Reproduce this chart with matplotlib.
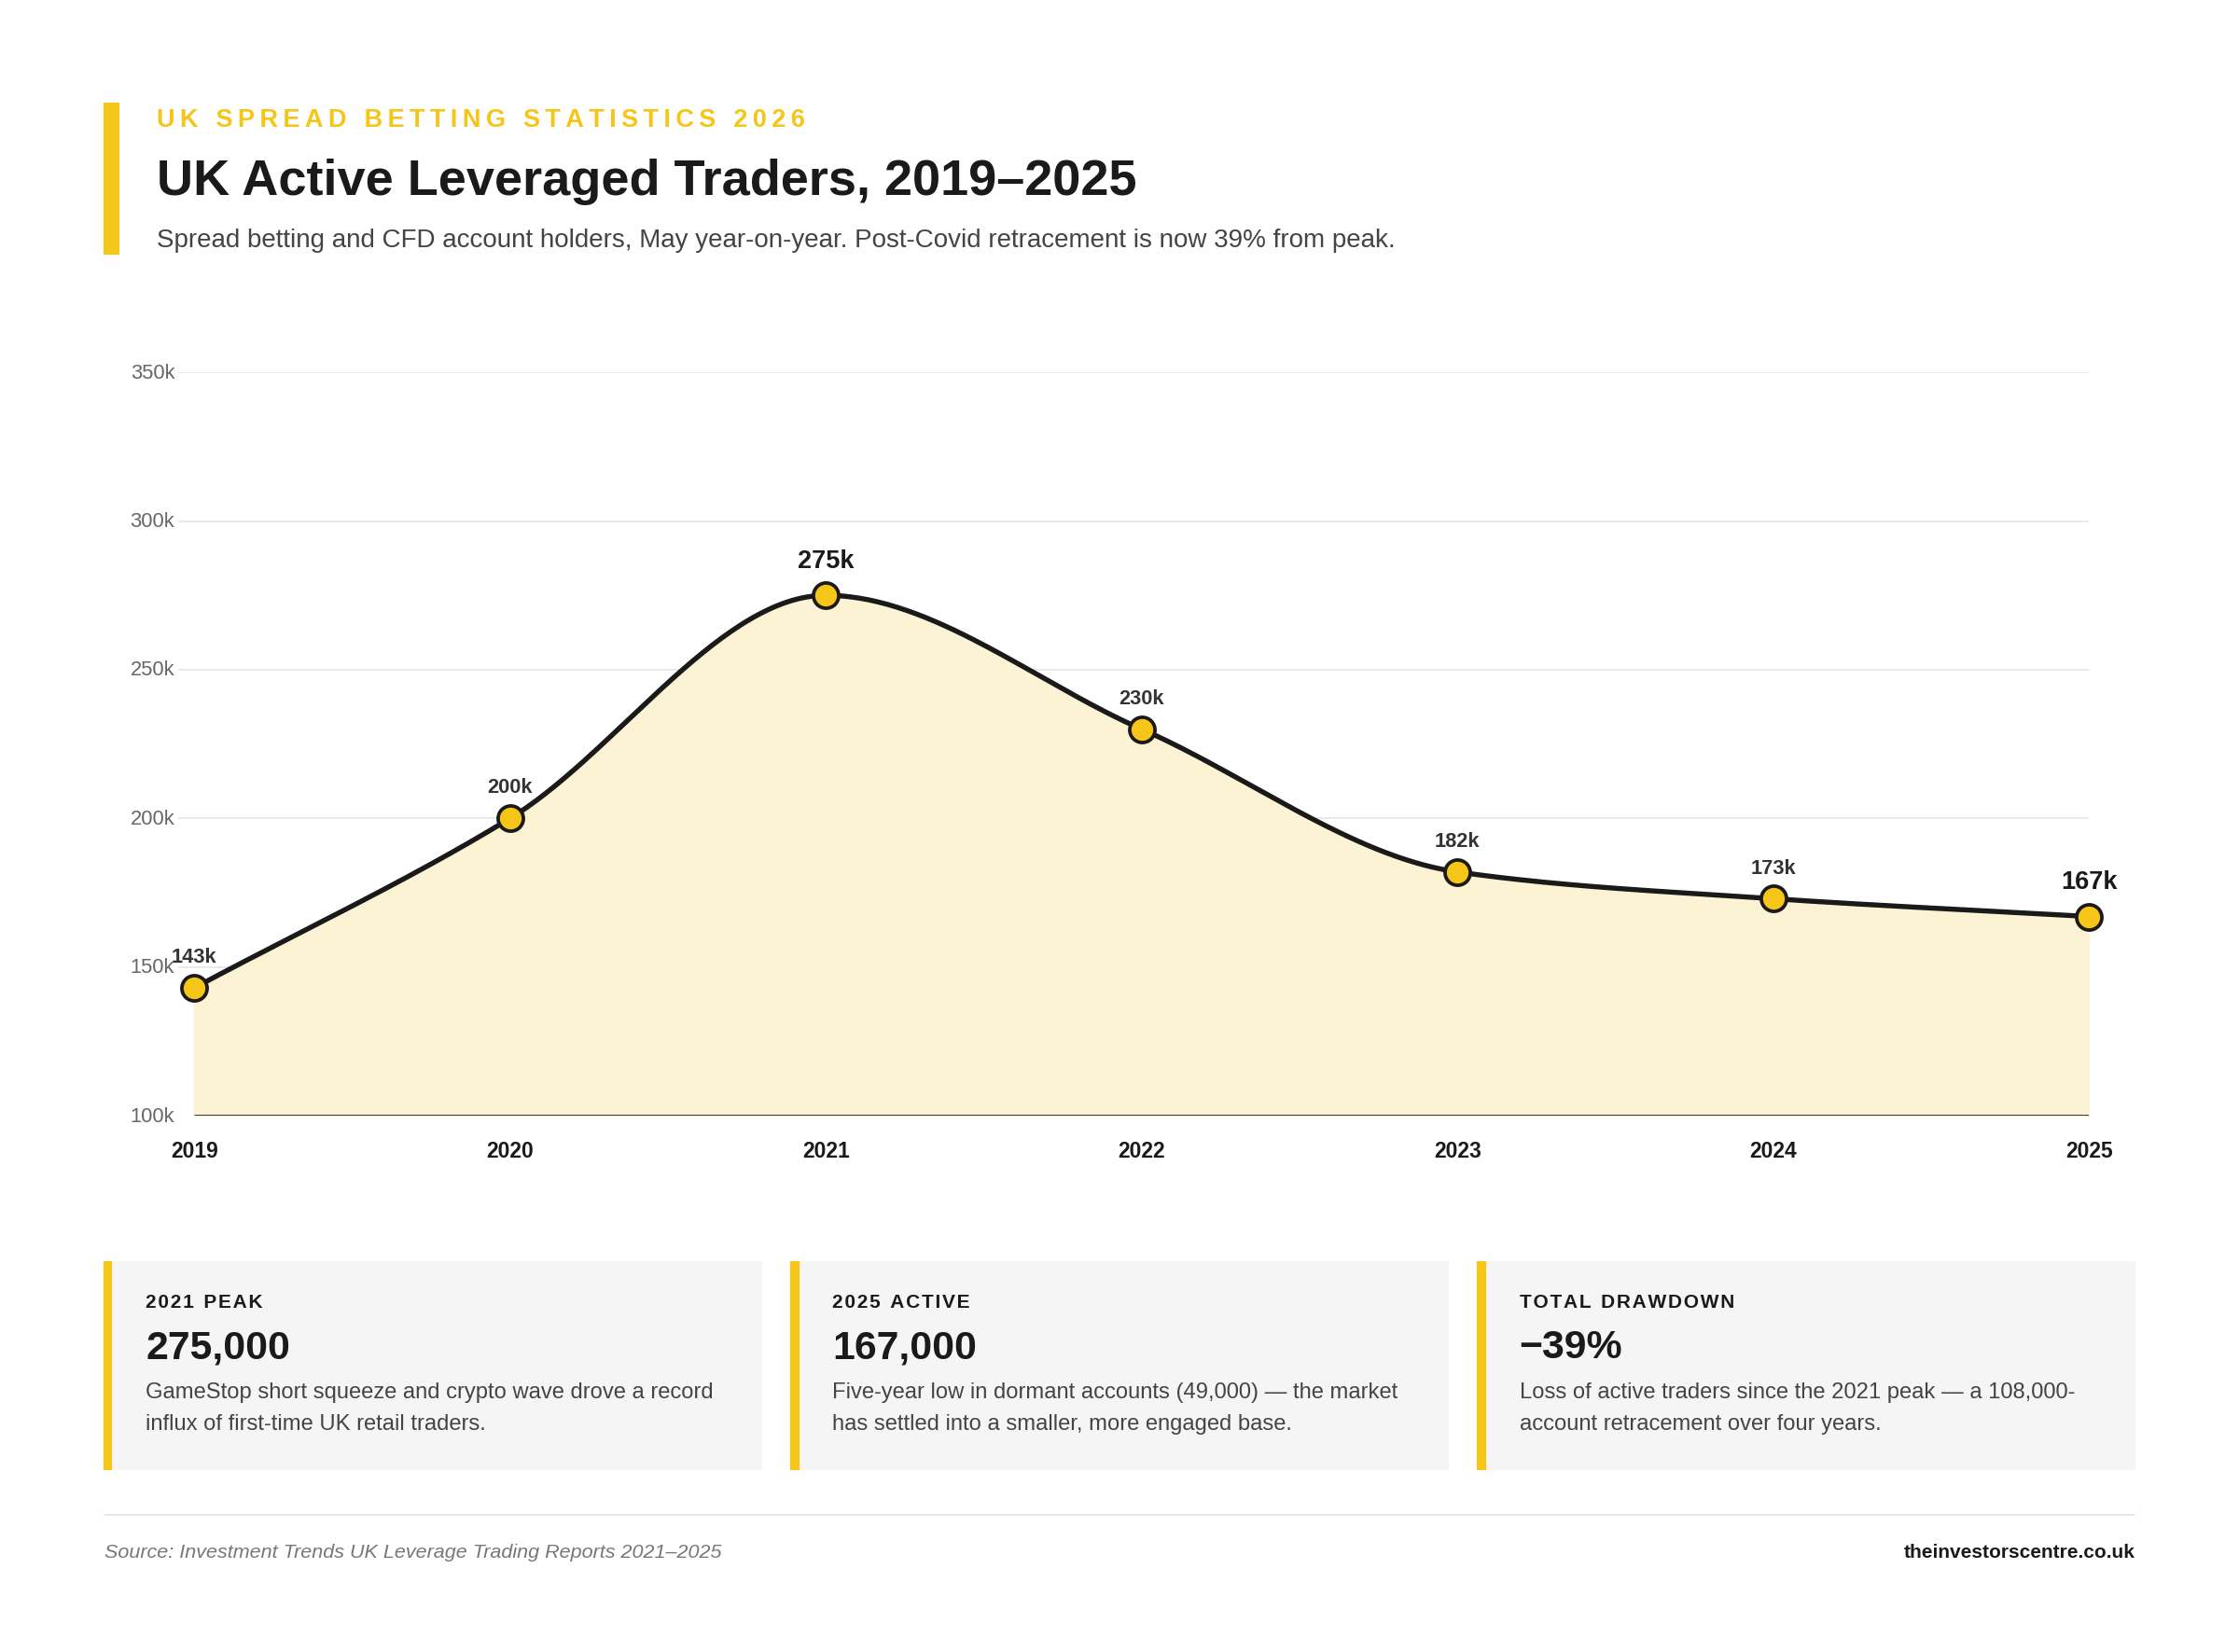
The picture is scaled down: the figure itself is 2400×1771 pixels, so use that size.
import numpy as np
import matplotlib
matplotlib.use("Agg")
import matplotlib.pyplot as plt
from matplotlib.patches import Rectangle
from matplotlib.lines import Line2D

plt.rcParams['font.family'] = ['Liberation Sans', 'DejaVu Sans']

years = [2019, 2020, 2021, 2022, 2023, 2024, 2025]
traders_k = [143, 200, 275, 230, 182, 173, 167]
labels = ["143k", "200k", "275k", "230k", "182k", "173k", "167k"]
big_labels = {2021, 2025}
yticks = [100, 150, 200, 250, 300, 350]
ytick_labels = ["100k", "150k", "200k", "250k", "300k", "350k"]

cards = [
    ("2021 PEAK", "275,000", "GameStop short squeeze and crypto wave drove a record\ninflux of first-time UK retail traders."),
    ("2025 ACTIVE", "167,000", "Five-year low in dormant accounts (49,000) \u2014 the market\nhas settled into a smaller, more engaged base."),
    ("TOTAL DRAWDOWN", "\u221239%", "Loss of active traders since the 2021 peak \u2014 a 108,000-\naccount retracement over four years."),
]

YELLOW = "#f5c518"
DARK = "#1a1a1a"
W, H = 1568.0, 1156.0

def monotone(x, y, n=400):
    x = np.asarray(x, float); y = np.asarray(y, float)
    h = np.diff(x); d = np.diff(y) / h
    m = np.zeros_like(y)
    m[0], m[-1] = d[0], d[-1]
    for i in range(1, len(y) - 1):
        if d[i-1] * d[i] <= 0:
            m[i] = 0
        else:
            m[i] = 2 / (1/d[i-1] + 1/d[i])
    xs = np.linspace(x[0], x[-1], n)
    ys = np.empty_like(xs)
    for j, xv in enumerate(xs):
        i = min(np.searchsorted(x, xv, side='right') - 1, len(x) - 2)
        t = (xv - x[i]) / h[i]
        h00 = 2*t**3 - 3*t**2 + 1; h10 = t**3 - 2*t**2 + t
        h01 = -2*t**3 + 3*t**2; h11 = t**3 - t**2
        ys[j] = h00*y[i] + h10*h[i]*m[i] + h01*y[i+1] + h11*h[i]*m[i+1]
    return xs, ys

def spaced(s, gap="\u200a", wordgap="\u2002"):
    return wordgap.join(gap.join(w) for w in s.split(" "))

fig = plt.figure(figsize=(16, 11.8133), dpi=150)
fig.patch.set_facecolor("white")

def fx(px): return px / W
def fy(py): return 1 - py / H

# header
fig.add_artist(Rectangle((fx(73), fy(178)), fx(10), (178-73)/H, color=YELLOW, transform=fig.transFigure))
fig.text(fx(110), fy(84), spaced("UK SPREAD BETTING STATISTICS 2026", "\u2009", "\u2002\u2009"),
         color=YELLOW, fontsize=13, fontweight='bold', va='center', ha='left')
fig.text(fx(110), fy(127), "UK Active Leveraged Traders, 2019\u20132025", color=DARK, fontsize=26,
         fontweight='bold', va='center', ha='left')
fig.text(fx(110), fy(168), "Spread betting and CFD account holders, May year-on-year. Post-Covid retracement is now 39% from peak.",
         color="#444444", fontsize=13.3, va='center', ha='left')

# chart
ax = fig.add_axes([fx(125), fy(781), (1463-125)/W, (781-261)/H])
x0lim = 2019 - 11/221.17
ax.set_xlim(x0lim, 2025)
ax.set_ylim(100, 350)
for s in ax.spines.values():
    s.set_visible(False)
ax.set_xticks([]); ax.set_yticks([])
for yt, lab in zip(yticks, ytick_labels):
    if yt > 100:
        ax.axhline(yt, color="#e6e6e6", lw=0.8, zorder=0)
    ax.annotate(lab, (x0lim, yt), xytext=(-2, 0), textcoords='offset points',
                ha='right', va='center', fontsize=10.5, color="#666666", annotation_clip=False)
xs, ys = monotone(years, traders_k)
ax.fill_between(xs, 100, ys, color="#fcf3d4", zorder=1)
ax.hlines(100, years[0], years[-1], color=DARK, lw=1.3, zorder=2.5)
ax.plot(xs, ys, color=DARK, lw=2.6, zorder=3, solid_capstyle='round')
ax.plot(years, traders_k, 'o', ms=13, mfc=YELLOW, mec=DARK, mew=1.8, zorder=4, clip_on=False)
for x, v, lab in zip(years, traders_k, labels):
    big = x in big_labels
    ax.annotate(lab, (x, v), xytext=(0, 18 if big else 16), textcoords='offset points',
                ha='center', va='center', fontsize=13 if big else 10.5,
                fontweight='bold', color=DARK if big else "#333333", annotation_clip=False)
    ax.annotate(str(x), (x, 100), xytext=(0, -18), textcoords='offset points', ha='center',
                va='center', fontsize=11, fontweight='bold', color=DARK, annotation_clip=False)

# cards
for i, (lab, val, desc) in enumerate(cards):
    x0 = 73 + i * 481
    fig.add_artist(Rectangle((fx(x0), fy(1028)), 460/W, 145/H, color="#f5f5f5", transform=fig.transFigure, zorder=0))
    fig.add_artist(Rectangle((fx(x0), fy(1028)), 5/W, 145/H, color=YELLOW, transform=fig.transFigure, zorder=1))
    fig.text(fx(x0 + 29), fy(911), spaced(lab, "\u200a", "\u2002"), fontsize=10, fontweight='bold', color=DARK, va='center')
    fig.text(fx(x0 + 29), fy(943), val, fontsize=20.5, fontweight='bold', color=DARK, va='center')
    fig.text(fx(x0 + 29), fy(967), desc, fontsize=11.4, color="#444444", va='top', linespacing=1.7)

fig.add_artist(Line2D([fx(73), fx(1495)], [fy(1060), fy(1060)], color="#e3e3e3", lw=0.8, transform=fig.transFigure))
fig.text(fx(73), fy(1086), "Source: Investment Trends UK Leverage Trading Reports 2021\u20132025", fontsize=10.3,
         style='italic', color="#777777", va='center')
fig.text(fx(1495), fy(1086), "theinvestorscentre.co.uk", fontsize=10, fontweight='bold', color=DARK,
         va='center', ha='right')

fig.savefig("out.png", dpi=150, facecolor="white")
